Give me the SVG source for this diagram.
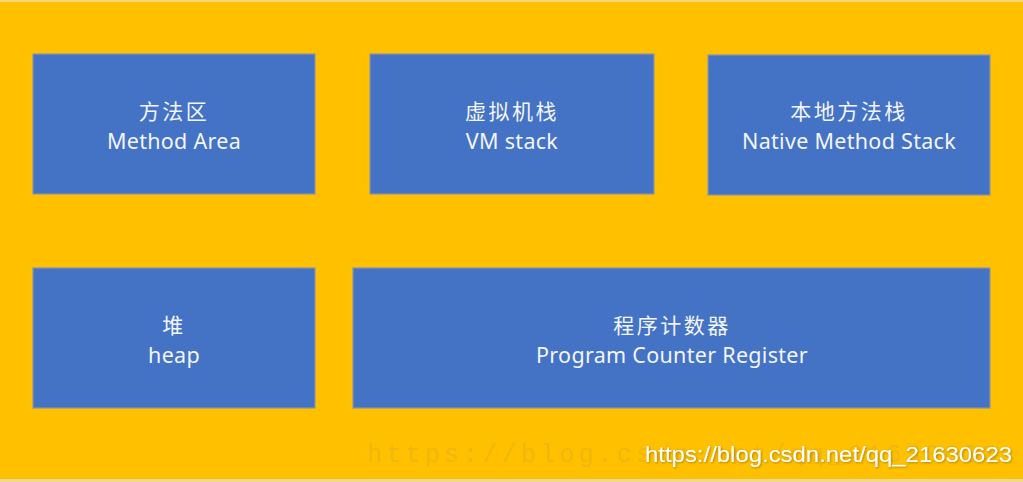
<svg xmlns="http://www.w3.org/2000/svg" width="1023" height="482" viewBox="0 0 1023 482">
<defs>
<style>
.box{fill:#4472C4;stroke:#8a94a6;stroke-width:1.2}
.zh{font-family:"Noto Sans CJK SC","Noto Sans",sans-serif;font-size:21px;fill:#f2f5fb;text-anchor:middle;letter-spacing:2.5px}
.en{font-family:"Noto Sans","Open Sans",sans-serif;font-size:21.5px;fill:#f2f5fb;text-anchor:middle;letter-spacing:0.3px}
</style>
<filter id="sh" x="-5%" y="-30%" width="110%" height="160%">
<feDropShadow dx="1" dy="1" stdDeviation="1" flood-color="#7a5a00" flood-opacity="0.6"/>
</filter>
</defs>
<rect x="0" y="0" width="1023" height="482" fill="#FFC000"/>
<rect x="0" y="0" width="1023" height="2" fill="#f3d77a"/>
<rect x="0" y="479" width="1023" height="3" fill="#efd98f"/>
<g id="method-area">
<rect class="box" x="33" y="54" width="282" height="140"/>
<text class="zh" x="174" y="119">方法区</text>
<text class="en" x="174" y="149">Method Area</text>
</g>
<g id="vm-stack">
<rect class="box" x="370" y="54" width="284" height="140"/>
<text class="zh" x="512" y="119">虚拟机栈</text>
<text class="en" x="512" y="149">VM stack</text>
</g>
<g id="native-method-stack">
<rect class="box" x="708" y="55" width="282" height="140"/>
<text class="zh" x="849" y="119">本地方法栈</text>
<text class="en" x="849" y="149">Native Method Stack</text>
</g>
<g id="heap">
<rect class="box" x="33" y="268" width="282" height="140"/>
<text class="zh" x="174" y="333">堆</text>
<text class="en" x="174" y="363">heap</text>
</g>
<g id="program-counter-register">
<rect class="box" x="353" y="268" width="637" height="140"/>
<text class="zh" x="672" y="333">程序计数器</text>
<text class="en" x="672" y="363">Program Counter Register</text>
</g>
<g id="connectors"></g>
<text x="367" y="462" font-family="'Liberation Mono',monospace" font-size="25" fill="#9a8a60" fill-opacity="0.18" textLength="630" lengthAdjust="spacing">https://blog.csdn.net/qq_21630623</text>
<text x="645" y="462" font-family="'Liberation Sans',Arial,sans-serif" font-size="22" fill="#ffffff" filter="url(#sh)" textLength="367" lengthAdjust="spacingAndGlyphs">https://blog.csdn.net/qq_21630623</text>
</svg>
